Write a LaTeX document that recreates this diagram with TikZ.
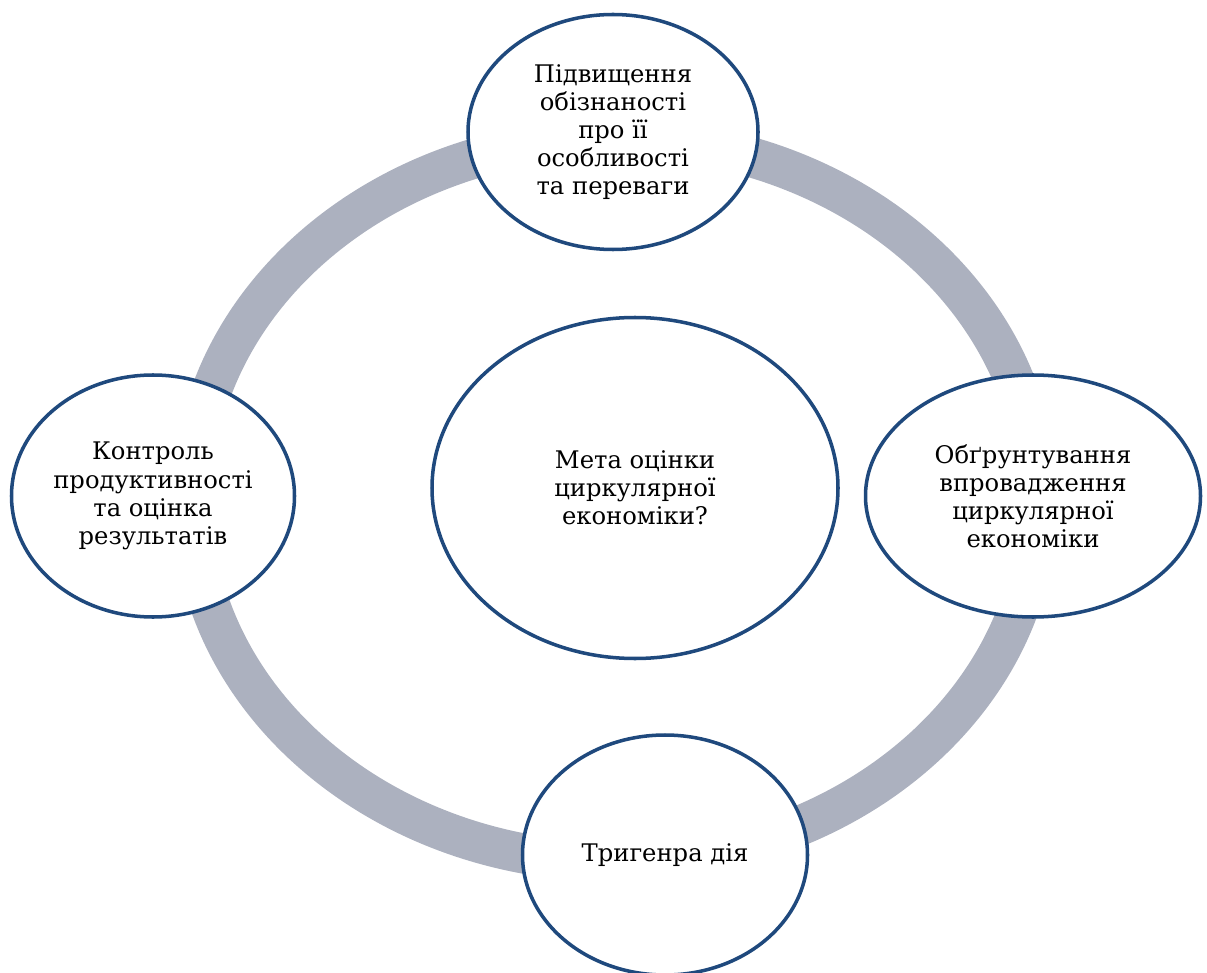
\documentclass[tikz,border=0pt]{standalone}
\usepackage{fontspec}
\setmainfont{DejaVu Serif}
\usetikzlibrary{shapes.geometric}
\definecolor{ringgray}{HTML}{ACB1BF}
\definecolor{edgeblue}{HTML}{1F497D}

\def\px{0.02cm}

\begin{document}
\begin{tikzpicture}[x=\px, y=-\px,
    bubble/.style={ellipse, draw=edgeblue, line width=2pt, fill=white, inner sep=0pt,
      align=center, font=\fontsize{13.8}{16}\selectfont},
    ring/.style={ringgray, line width=0.8cm}]
      \useasboundingbox (0,0) rectangle (1207,973);
      \draw[ring] (615,500) ellipse [x radius=423, y radius=362];
      \node[bubble, minimum width=290*\px, minimum height=235*\px] (raise) at (613,132)
        {Підвищення\\обізнаності\\про її\\особливості\\та переваги};
      \node[bubble, minimum width=283*\px, minimum height=242*\px] (control) at (153,496)
        {Контроль\\продуктивності\\та оцінка\\результатів};
      \node[bubble, minimum width=335*\px, minimum height=242*\px] (justify) at (1033,496)
        {Обґрунтування\\впровадження\\циркулярної\\економіки};
      \node[bubble, minimum width=285*\px, minimum height=240*\px] (action) at (665,855)
        {Тригенра дія};
      \node[bubble, minimum width=406*\px, minimum height=341*\px] (goal) at (635,488)
        {Мета оцінки\\циркулярної\\економіки?};
\end{tikzpicture}
\end{document}
